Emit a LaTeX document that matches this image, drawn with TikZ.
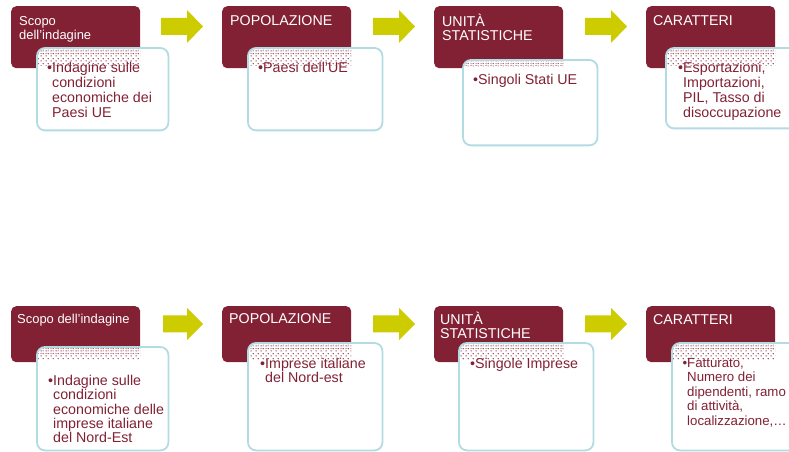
\documentclass[tikz,border=0pt]{standalone}
\usepackage{fontspec}
\setmainfont{Liberation Sans}
\usetikzlibrary{patterns,calc}
\definecolor{maroon}{RGB}{130,33,52}
\definecolor{olivey}{RGB}{204,204,0}
\definecolor{lightcyan}{RGB}{178,220,226}

\pgfdeclarepatternformonly{softdots}{\pgfpointorigin}{\pgfpoint{5bp}{5bp}}{\pgfpoint{5bp}{5bp}}{%
  \pgfpathcircle{\pgfpoint{1.25bp}{1.25bp}}{0.75bp}%
  \pgfpathcircle{\pgfpoint{3.75bp}{3.75bp}}{0.75bp}%
  \pgfusepath{fill}}
\pgfdeclarepatternformonly{densedots}{\pgfpointorigin}{\pgfpoint{5bp}{5bp}}{\pgfpoint{5bp}{5bp}}{%
  \pgfpathcircle{\pgfpoint{3.75bp}{1.25bp}}{0.7bp}%
  \pgfpathcircle{\pgfpoint{1.25bp}{3.75bp}}{0.7bp}%
  \pgfusepath{fill}}

\tikzset{
  redbox/.style={fill=maroon, rounded corners=5bp, inner sep=0pt, anchor=north west, minimum width=129bp},
  whitefill/.style={fill=white, rounded corners=8bp, inner sep=0pt, anchor=north west},
  wborder/.style={draw=lightcyan, line width=1.8bp, rounded corners=8bp},
  rtext/.style={text=white, font=\fontsize{14.3}{14.5}\selectfont, align=left, inner sep=0pt, anchor=north west},
  rtexts/.style={rtext, font=\fontsize{13}{14.5}\selectfont},
  wtext/.style={text=maroon, font=\fontsize{14.3}{15}\selectfont, align=left, inner sep=0pt, anchor=north west},
  wtextb/.style={wtext, font=\fontsize{14.3}{14.4}\selectfont},
  wtextc/.style={wtext, font=\fontsize{13.3}{14.5}\selectfont},
  blockarrow/.style={fill=olivey},
}

% #1 name, #2 rx, #3 ry, #4 rh, #5 wx, #6 wy, #7 ww, #8 wh
\newcommand\mkpanel[8]{%
  \node[redbox, minimum height=#4bp] (r#1) at (#2,#3) {};
  \node[whitefill, minimum width=#7bp, minimum height=#8bp] (w#1) at (#5,#6) {};
  \begin{scope}
    \clip[rounded corners=7bp] ($(w#1.north west)+(1,1)$) rectangle ($(w#1.south east)+(-1,-1)$);
    \fill[pattern=softdots, pattern color=maroon] (w#1.north west) rectangle ($(r#1.south east)+(0,-3)$);
    \fill[pattern=densedots, pattern color=maroon!80] (w#1.north west) rectangle ($(r#1.south east |- w#1.north west)+(0,7)$);
  \end{scope}
  \draw[wborder] (w#1.north west) rectangle (w#1.south east);
}

\begin{document}
\begin{tikzpicture}[x=1bp,y=-1bp]
\useasboundingbox (0,0) rectangle (789,452);
\clip (0,0) rectangle (789,452);
\fill[white] (0,0) rectangle (789,452);

% ---------- top row ----------
\mkpanel{a1}{11}{6}{62}{37}{48}{131}{82}
\mkpanel{a2}{222}{6}{62}{248}{48}{134}{82}
\mkpanel{a3}{434}{6}{62}{463}{60}{134}{85}
\mkpanel{a4}{646}{6}{62}{666}{48}{140}{80}

\path[blockarrow] (161,18) -- (187,18) -- (187,10) -- (203,26.5) -- (187,43) -- (187,35) -- (161,35) -- cycle;
\path[blockarrow] (373,18) -- (399,18) -- (399,10) -- (415,26.5) -- (399,43) -- (399,35) -- (373,35) -- cycle;
\path[blockarrow] (585,18) -- (611,18) -- (611,10) -- (627,26.5) -- (611,43) -- (611,35) -- (585,35) -- cycle;

\node[rtexts] (ta1) at (19,16) {Scopo\\dell’indagine};
\node[rtext] (ta2) at (230,15) {POPOLAZIONE};
\node[rtext] (ta3) at (442,13.5) {UNITÀ\\STATISTICHE};
\node[rtext] (ta4) at (653,15) {CARATTERI};

\node[wtext] (ua1) at (52,62) {\llap{•}Indagine sulle\\condizioni\\economiche dei\\Paesi UE};
\node[wtext] (ua2) at (263,62) {\llap{•}Paesi dell’UE};
\node[wtext] (ua3) at (478,74) {\llap{•}Singoli Stati UE};
\node[wtext] (ua4) at (683,62) {\llap{•}Esportazioni,\\Importazioni,\\PIL, Tasso di\\disoccupazione};

% ---------- bottom row ----------
\mkpanel{b1}{11}{306}{56}{37}{347}{131}{103}
\mkpanel{b2}{222}{306}{56}{248}{343}{134}{107}
\mkpanel{b3}{434}{306}{56}{459}{343}{134}{107}
\mkpanel{b4}{646}{306}{56}{672}{343}{140}{107}

\path[blockarrow] (163,315.5) -- (187,315.5) -- (187,308) -- (203,324) -- (187,340) -- (187,332.5) -- (163,332.5) -- cycle;
\path[blockarrow] (373,315.5) -- (399,315.5) -- (399,308) -- (415,324) -- (399,340) -- (399,332.5) -- (373,332.5) -- cycle;
\path[blockarrow] (585,315.5) -- (611,315.5) -- (611,308) -- (627,324) -- (611,340) -- (611,332.5) -- (585,332.5) -- cycle;

\node[rtexts] (tb1) at (17,314) {Scopo dell’indagine};
\node[rtext] (tb2) at (229,313) {POPOLAZIONE};
\node[rtext] (tb3) at (440,311.5) {UNITÀ\\STATISTICHE};
\node[rtext] (tb4) at (653,314) {CARATTERI};

\node[wtextb] (ub1) at (53,375) {\llap{•}Indagine sulle\\condizioni\\economiche delle\\imprese italiane\\del Nord-Est};
\node[wtextb] (ub2) at (265,358) {\llap{•}Imprese italiane\\del Nord-est};
\node[wtextb] (ub3) at (475,358) {\llap{•}Singole Imprese};
\node[wtextc] (ub4) at (687,358) {\llap{•}Fatturato,\\Numero dei\\dipendenti, ramo\\di attività,\\localizzazione,…};
\end{tikzpicture}
\end{document}
